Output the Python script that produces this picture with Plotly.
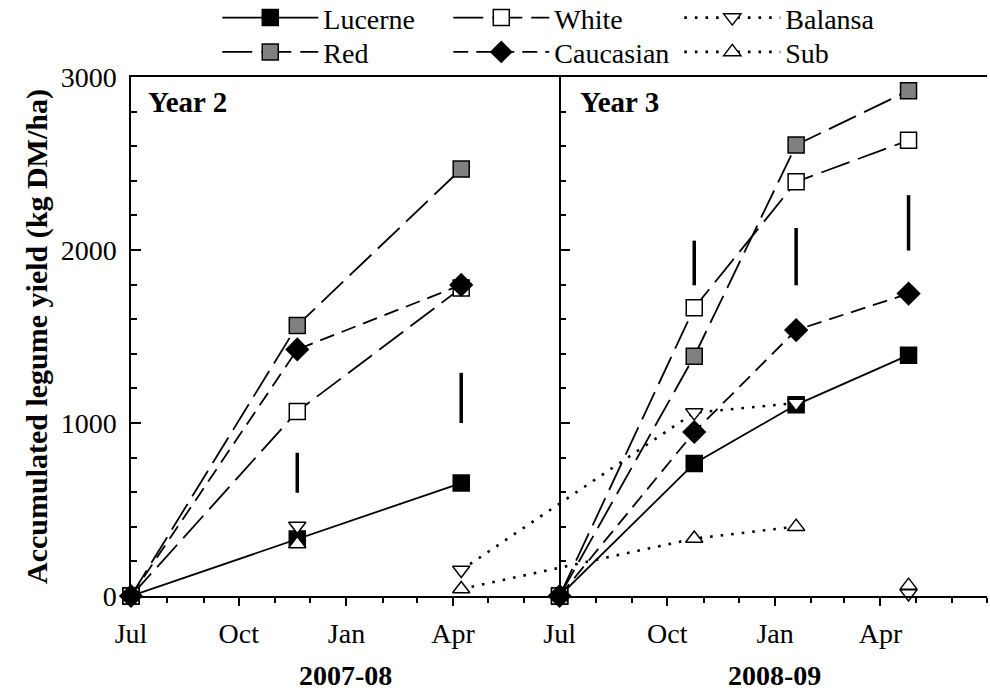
import plotly.graph_objects as go

# ---------------- data ----------------
perennial_dates = ["2007-07-01", "2007-11-20", "2008-04-08", None,
                   "2008-07-01", "2008-10-24", "2009-01-19", "2009-04-25"]
lucerne = [0, 330, 653, None, 0, 766, 1105, 1392]
red = [0, 1564, 2468, None, 0, 1386, 2607, 2921]
white = [0, 1067, 1780, None, 0, 1666, 2394, 2634]
caucasian = [0, 1425, 1798, None, 0, 948, 1537, 1748]

annual_dates = ["2007-11-20", None, "2008-04-08", "2008-10-24", "2009-01-19", None, "2009-04-25"]
balansa = [405, None, 150, 1060, 1115, None, 15]
sub = [300, None, 40, 332, 401, None, 60]

lsd_dates = ["2007-11-20", "2008-04-08", "2008-10-24", "2009-01-19", "2009-04-25"]
lsd_low = [597, 1000, 1796, 1796, 1997]
lsd_high = [828, 1290, 2054, 2127, 2317]

tick_dates = ["2007-07-01", "2007-10-01", "2008-01-01", "2008-04-01",
              "2008-07-01", "2008-10-01", "2009-01-01", "2009-04-01"]
tick_labels = ["Jul", "Oct", "Jan", "Apr", "Jul", "Oct", "Jan", "Apr"]
y_ticks = [0, 1000, 2000, 3000]
season_labels = ["2007-08", "2008-09"]
panel_labels = ["Year 2", "Year 3"]
y_title = "Accumulated legume yield (kg DM/ha)"

FONT = "Liberation Serif, Times New Roman, Times, serif"
BLACK = "black"
FS = 28

fig = go.Figure()

def add_series(name, x, y, symbol, fill, dash, legend, width=1.8):
    size = 16 if symbol == "square" else (17 if symbol == "diamond" else 15)
    fig.add_trace(go.Scatter(
        x=x, y=y, name=name, mode="lines+markers",
        line=dict(color=BLACK, width=width, dash=dash),
        marker=dict(symbol=symbol, size=size, color=fill,
                    line=dict(color=BLACK, width=1.5)),
        cliponaxis=False, legend=legend, connectgaps=False,
    ))

add_series("Lucerne", perennial_dates, lucerne, "square", BLACK, "solid", "legend")
add_series("Red", perennial_dates, red, "square", "#808080", "30px,9px", "legend2")
add_series("White", perennial_dates, white, "square", "white", "30px,9px", "legend")
add_series("Caucasian", perennial_dates, caucasian, "diamond", BLACK, "15px,8px", "legend2")
add_series("Balansa", annual_dates, balansa, "triangle-down", "white", "2.6px,8px", "legend", 2.6)
add_series("Sub", annual_dates, sub, "triangle-up", "white", "2.6px,8px", "legend2", 2.6)

bx, by = [], []
for d, lo, hi in zip(lsd_dates, lsd_low, lsd_high):
    bx += [d, d, None]
    by += [lo, hi, None]
fig.add_trace(go.Scatter(x=bx, y=by, mode="lines", line=dict(color=BLACK, width=3.5),
                         showlegend=False, yaxis="y2", hoverinfo="skip"))

divider = 366 / 731

legend_common = dict(orientation="h", xanchor="left", yanchor="top",
                     bgcolor="rgba(0,0,0,0)", borderwidth=0, itemwidth=96,
                     entrywidth=120, entrywidthmode="pixels",
                     font=dict(family=FONT, size=FS, color=BLACK))

fig.update_layout(
    width=990, height=692,
    margin=dict(l=131, r=3, t=77, b=96, autoexpand=False),
    paper_bgcolor="white", plot_bgcolor="white",
    font=dict(family=FONT, size=FS, color=BLACK),
    legend=dict(x=0.1008, y=1.162, **legend_common),
    legend2=dict(x=0.1008, y=1.096, **legend_common),
    xaxis=dict(type="date", range=["2007-07-01", "2009-07-01"], automargin=False,
               tickmode="array", tickvals=tick_dates, ticktext=tick_labels,
               ticks="outside", ticklen=8, tickwidth=1.5, tickcolor=BLACK,
               showline=True, linewidth=1.5, linecolor=BLACK, mirror=True,
               showgrid=False, zeroline=False, ticklabelstandoff=4,
               tickfont=dict(family=FONT, size=FS, color=BLACK),
               minor=dict(tickmode="linear", dtick="M1", tick0="2007-07-01",
                          ticks="outside", ticklen=5, tickwidth=1.5, tickcolor=BLACK,
                          showgrid=False)),
    yaxis=dict(range=[0, 3000], tickmode="array", tickvals=y_ticks, automargin=False,
               ticks="inside", ticklen=10, tickwidth=1.5, tickcolor=BLACK,
               showline=True, linewidth=1.5, linecolor=BLACK,
               showgrid=False, zeroline=False, ticklabelstandoff=7,
               tickfont=dict(family=FONT, size=FS, color=BLACK),
               minor=dict(tickmode="linear", dtick=200, tick0=0, ticks="inside",
                          ticklen=6, tickwidth=1.5, tickcolor=BLACK, showgrid=False)),
    yaxis2=dict(overlaying="y", anchor="free", position=divider, side="left",
                range=[0, 3000], tickmode="array", tickvals=y_ticks, automargin=False,
                ticks="inside", ticklen=10, tickwidth=1.5, tickcolor=BLACK,
                showline=True, linewidth=1.5, linecolor=BLACK,
                showgrid=False, zeroline=False, showticklabels=False,
                minor=dict(tickmode="linear", dtick=200, tick0=0, ticks="inside",
                           ticklen=6, tickwidth=1.5, tickcolor=BLACK, showgrid=False)),
    showlegend=True,
)

bold = dict(family=FONT, size=29, color=BLACK, weight="bold")
fig.add_annotation(x=0.017, y=0.951, xref="paper", yref="paper", text=panel_labels[0],
                   showarrow=False, xanchor="left", yanchor="middle", font=bold)
fig.add_annotation(x=0.522, y=0.951, xref="paper", yref="paper", text=panel_labels[1],
                   showarrow=False, xanchor="left", yanchor="middle", font=bold)
sbold = dict(family=FONT, size=28, color=BLACK, weight="bold")
fig.add_annotation(x=0.25, y=-0.154, xref="paper", yref="paper", text=season_labels[0],
                   showarrow=False, xanchor="center", yanchor="middle", font=sbold)
fig.add_annotation(x=0.752, y=-0.154, xref="paper", yref="paper", text=season_labels[1],
                   showarrow=False, xanchor="center", yanchor="middle", font=sbold)
fig.add_annotation(x=-0.1098, y=0.499, xref="paper", yref="paper", text=y_title,
                   showarrow=False, xanchor="center", yanchor="middle", textangle=-90,
                   font=dict(family=FONT, size=30, color=BLACK, weight="bold"))

fig.write_html("out.html", config={"displayModeBar": False},
               post_script="document.body.style.margin='0px';")
